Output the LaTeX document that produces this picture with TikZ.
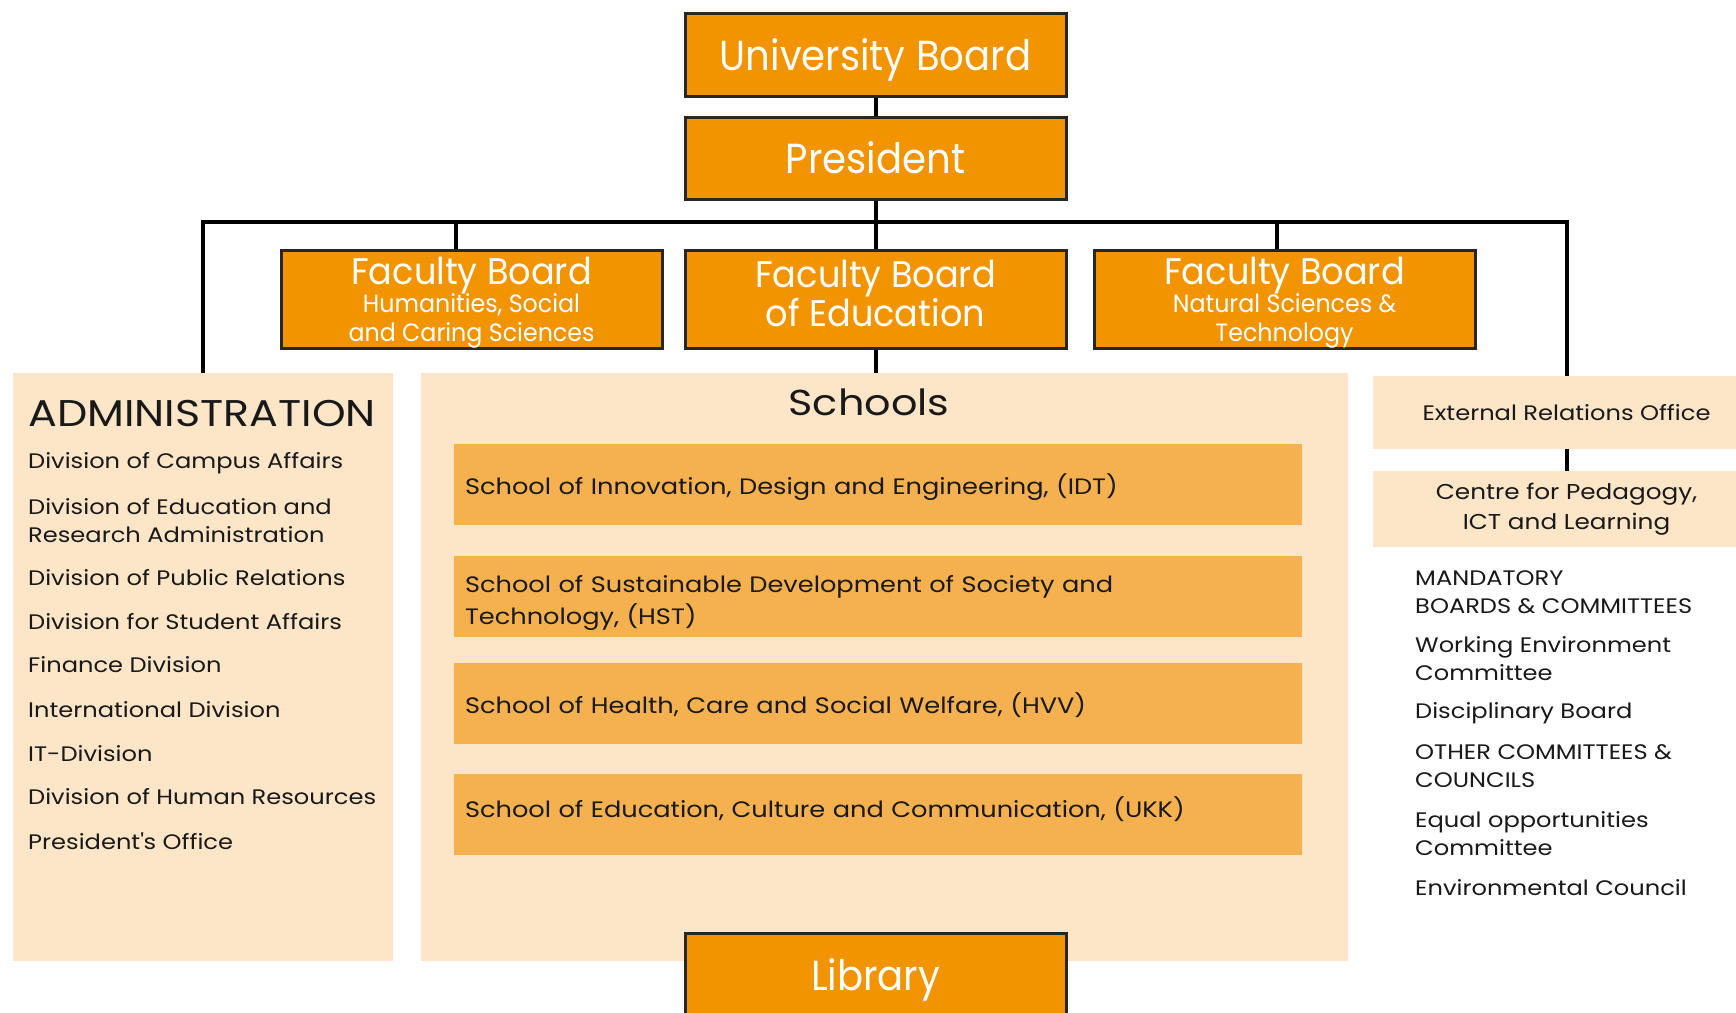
\documentclass[tikz,border=0pt]{standalone}
\usepackage{fontspec}
\setmainfont{Poppins}
\newfontfamily\geoNarrow[FakeStretch=0.92]{Poppins}
\newfontfamily\geoTitle[FakeStretch=0.95]{Poppins}
\newfontfamily\geoWide[FakeStretch=1.15]{Poppins}
\usetikzlibrary{positioning}
\definecolor{boardOrange}{RGB}{242,148,0}
\definecolor{paleBox}{RGB}{253,229,199}
\definecolor{schoolBar}{RGB}{245,177,80}
\newcommand{\bodyText}{\geoWide\fontsize{21}{28}\selectfont}
\newcommand{\barText}{\geoWide\fontsize{22.3}{32}\selectfont}
\newcommand{\bigBoard}{\geoNarrow\fontsize{42}{42}\selectfont}
\newcommand{\facTitle}{\geoTitle\fontsize{37}{34}\selectfont}
\newcommand{\facSub}{\fontsize{25}{28}\selectfont}

\begin{document}
\begin{tikzpicture}[x=1pt, y=-1pt,
    board/.style={draw=black!85, line width=3pt, fill=boardOrange, text=white,
        minimum width=381pt, inner sep=0pt, align=center},
    panel/.style={fill=paleBox, inner sep=0pt, align=center, text=black!90},
    schoolbar/.style={fill=schoolBar, minimum width=848pt, minimum height=81pt,
        text width=826pt, inner xsep=11pt, align=left, font=\barText, text=black!90},
    item/.style={anchor=west, inner sep=0pt, align=left, font=\bodyText, text=black!90},
    link/.style={line width=4pt, black}]
    \useasboundingbox (0,0) rectangle (1736,1012);

    \node[panel, minimum width=380pt, minimum height=588pt] (admin) at (203,667) {};
    \node[panel, minimum width=927pt, minimum height=588pt] (schools) at (884.5,667) {};
    \node[panel, minimum width=387pt, minimum height=73pt, font=\bodyText] (ero) at (1566.5,412.5) {External Relations Office};
    \node[panel, minimum width=387pt, minimum height=76pt, font=\geoWide\fontsize{21.5}{30}\selectfont] (cpil) at (1566.5,509) {Centre for Pedagogy,\\ICT and Learning};

    \node[board, minimum height=83pt, font=\bigBoard, text depth=0pt] (ub) at (875.5,54.5) {University Board};
    \node[board, minimum height=82pt, font=\bigBoard, text depth=0pt] (pres) at (875.5,158) {President};
    \node[board, minimum height=98pt, font=\facTitle, text depth=0pt] (fbhum) at (471.5,299) {Faculty Board\\[-6pt]{\facSub Humanities, Social}\\[-5pt]{\facSub and Caring Sciences}};
    \node[board, minimum height=98pt, font=\facTitle, text depth=11pt] (fbedu) at (875.5,299) {Faculty Board\\of Education};
    \node[board, minimum height=98pt, font=\facTitle, text depth=0pt] (fbnat) at (1284.5,299) {Faculty Board\\[-6pt]{\facSub Natural Sciences \&}\\[-5pt]{\facSub Technology}};
    \node[board, minimum height=84pt, font=\bigBoard, text depth=0pt] (library) at (875.5,975) {Library};

    \coordinate (bus) at (875.5,222);
    \coordinate (humtap) at ([xshift=-16pt]fbhum.north);
    \coordinate (nattap) at ([xshift=-8pt]fbnat.north);
    \draw[link] (ub) -- (pres);
    \draw[link] (pres) -- (fbedu);
    \draw[link] (admin.north) |- (bus) -| (ero.north);
    \draw[link] (humtap) -- (humtap |- bus);
    \draw[link] (nattap) -- (nattap |- bus);
    \draw[link] (fbedu) -- (fbedu.south |- schools.north);
    \draw[link] (ero) -- (cpil);

    \node[item, font=\geoWide\fontsize{37.2}{37}\selectfont] (admtitle) at (28,413) {ADMINISTRATION};
    \foreach \ypos/\txt [count=\i] in {463/Division of Campus Affairs,
        521/{Division of Education and\\Research Administration},
        578/Division of Public Relations, 622/Division for Student Affairs,
        665/Finance Division, 710/International Division, 754/IT-Division,
        797/Division of Human Resources, 841/President\textquotesingle s Office}
        \node[item] (adm\i) at (28,\ypos) {\txt};

    \node[font=\geoWide\fontsize{36}{36}\selectfont, text=black!90] (schtitle) at (869,402) {Schools};
    \node[schoolbar, text depth=0pt] (idt) at (878,484.5) {School of Innovation, Design and Engineering, (IDT)};
    \node[schoolbar] (hst) at (878,596.5) {\rule{0pt}{31pt}School of Sustainable Development of Society and\\Technology, (HST)};
    \node[schoolbar, text depth=0pt] (hvv) at (878,703.5) {School of Health, Care and Social Welfare, (HVV)};
    \node[schoolbar, text depth=14pt] (ukk) at (878,814) {School of Education, Culture and Communication, (UKK)};

    \foreach \ypos/\txt [count=\i] in {592/{MANDATORY\\BOARDS \& COMMITTEES},
        659/{Working Environment\\Committee}, 713/Disciplinary Board,
        766/{OTHER COMMITTEES \&\\COUNCILS}, 834/{Equal opportunities\\Committee},
        888/Environmental Council}
        \node[item] (cmt\i) at (1415,\ypos) {\txt};
\end{tikzpicture}
\end{document}
